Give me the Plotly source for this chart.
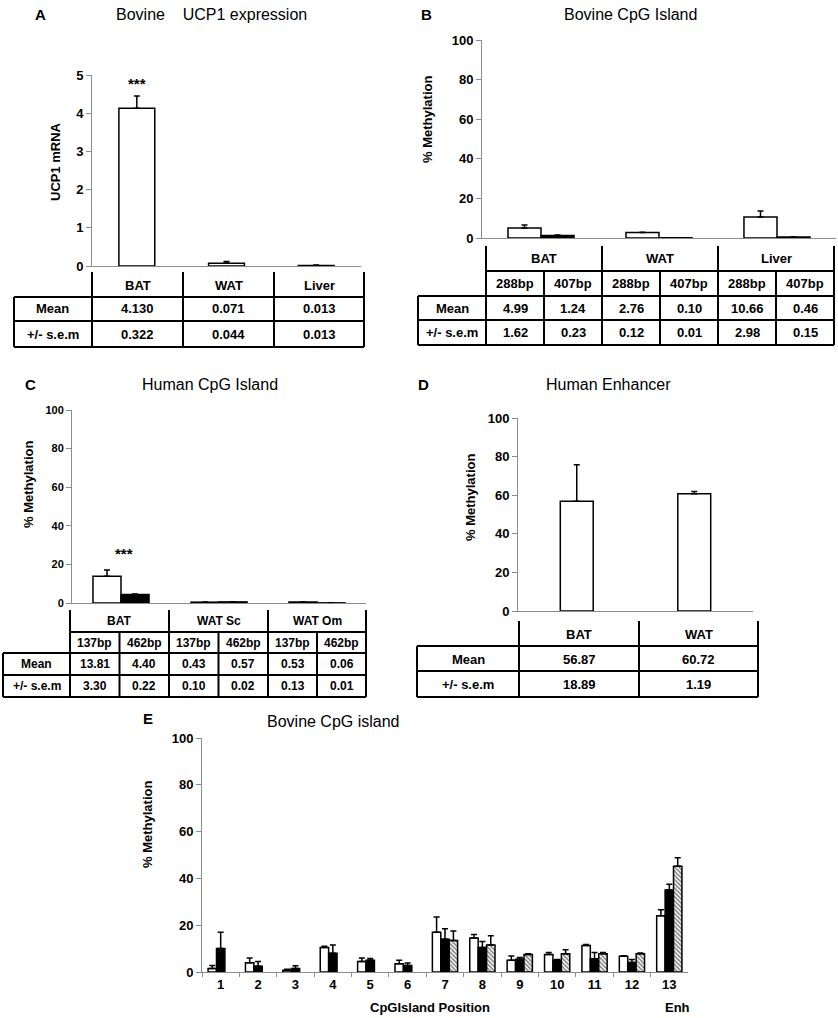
import plotly.graph_objects as go

W, H = 838, 1018
FONT = "Liberation Sans, Arial, sans-serif"

# A - bovine UCP1 expression
a_tissues = ["BAT", "WAT", "Liver"]
a_mean = [4.130, 0.071, 0.013]
a_sem = [0.322, 0.044, 0.013]

# B - bovine CpG island
b_tissues = ["BAT", "WAT", "Liver"]
b_frags = ["288bp", "407bp"]
b_288_mean = [4.99, 2.76, 10.66]
b_288_sem = [1.62, 0.12, 2.98]
b_407_mean = [1.24, 0.10, 0.46]
b_407_sem = [0.23, 0.01, 0.15]

# C - human CpG island
c_tissues = ["BAT", "WAT Sc", "WAT Om"]
c_frags = ["137bp", "462bp"]
c_137_mean = [13.81, 0.43, 0.53]
c_137_sem = [3.30, 0.10, 0.13]
c_462_mean = [4.40, 0.57, 0.06]
c_462_sem = [0.22, 0.02, 0.01]

# D - human enhancer
d_tissues = ["BAT", "WAT"]
d_mean = [56.87, 60.72]
d_sem = [18.89, 1.19]

# E - bovine CpG island by position
e_pos = [str(i) for i in range(1, 14)]
e_white = [1.5, 4.0, 0.7, 10.5, 4.5, 3.5, 17.0, 14.5, 5.0, 7.5, 11.3, 6.7, 24.0]
e_white_err = [1.3, 2.0, 0.5, 0.5, 1.5, 1.5, 6.5, 1.5, 1.8, 0.8, 0.5, 0.2, 2.6]
e_black = [10.0, 2.5, 1.5, 8.0, 5.0, 2.8, 14.0, 10.5, 5.5, 5.0, 5.7, 4.1, 35.0]
e_black_err = [7.0, 2.0, 1.2, 3.5, 0.8, 1.0, 4.5, 2.5, 0.7, 0.3, 2.6, 1.2, 2.5]
e_hatch = [None] * 6 + [13.5, 11.5, 7.5, 7.8, 7.8, 7.8, 45.2]
e_hatch_err = [0] * 6 + [4.0, 4.0, 0.3, 1.7, 0.5, 0.3, 3.6]

row_labels = ["Mean", "+/- s.e.m"]


def px(x):
    return x / W


def py(y):
    return 1 - y / H


def err(vals):
    return dict(type="data", symmetric=False, array=vals, arrayminus=[0] * len(vals),
                color="black", thickness=1.5, width=3)


def bar(x, y, e, axis, fill="white", width=0.4, offset=None, hatch=False):
    marker = dict(color=fill, line=dict(color="black", width=1.5))
    if hatch:
        marker["pattern"] = dict(shape="\\", fgcolor="black", bgcolor="white", size=3, solidity=0.5)
    return go.Bar(x=x, y=y, error_y=err(e), marker=marker, width=width, offset=offset,
                  xaxis="x" + axis, yaxis="y" + axis, showlegend=False)


fig = go.Figure()
fig.add_trace(bar(a_tissues, a_mean, a_sem, "", width=0.4, offset=-0.2))
fig.add_trace(bar(b_tissues, b_288_mean, b_288_sem, "2", width=0.28, offset=-0.28))
fig.add_trace(bar(b_tissues, b_407_mean, b_407_sem, "2", fill="black", width=0.28, offset=0))
fig.add_trace(bar(c_tissues, c_137_mean, c_137_sem, "3", width=0.286, offset=-0.286))
fig.add_trace(bar(c_tissues, c_462_mean, c_462_sem, "3", fill="black", width=0.286, offset=0))
fig.add_trace(bar(d_tissues, d_mean, d_sem, "4", width=0.28, offset=-0.14))
fig.add_trace(bar(e_pos, e_white, e_white_err, "5", width=0.225, offset=-0.3375))
fig.add_trace(bar(e_pos, e_black, e_black_err, "5", fill="black", width=0.225, offset=-0.1125))
fig.add_trace(bar(e_pos, e_hatch, e_hatch_err, "5", width=0.225, offset=0.1125, hatch=True))

tickfont = dict(family=FONT, size=13, color="black", weight="bold")
small_tick = dict(family=FONT, size=11, color="black", weight="bold")


def yax(y0, y1, rng, dtick, anchor, font=tickfont):
    return dict(domain=[py(y1), py(y0)], range=rng, dtick=dtick, anchor=anchor,
                showline=True, linecolor="#8c8c8c", linewidth=1, ticks="outside",
                ticklen=5, tickcolor="#8c8c8c", showgrid=False, zeroline=False,
                tickfont=font, fixedrange=True, automargin=False)


def xax(x0, x1, n, anchor, **kw):
    d = dict(domain=[px(x0), px(x1)], range=[-0.5, n - 0.5], anchor=anchor,
             showline=True, linecolor="#8c8c8c", linewidth=1, showgrid=False,
             showticklabels=False, ticks="", zeroline=False, automargin=False,
             fixedrange=True)
    d.update(kw)
    return d


fig.update_layout(
    width=W, height=H, margin=dict(l=0, r=0, t=0, b=0, pad=0),
    paper_bgcolor="white", plot_bgcolor="white", barmode="overlay",
    font=dict(family=FONT, color="black"),
    xaxis=xax(92, 361, 3, "y"),
    yaxis=yax(75, 266, [0, 5], 1, "x"),
    xaxis2=xax(482, 836, 3, "y2"),
    yaxis2=yax(40, 238, [0, 100], 20, "x2"),
    xaxis3=xax(72, 366, 3, "y3"),
    yaxis3=yax(410, 603, [0, 100], 20, "x3", small_tick),
    xaxis4=xax(518, 753, 2, "y4"),
    yaxis4=yax(418, 611, [0, 100], 20, "x4"),
    xaxis5=xax(202, 688, 13, "y5", showticklabels=True, ticks="outside",
               tickson="boundaries", ticklen=4, tickcolor="#8c8c8c", tickfont=tickfont),
    yaxis5=yax(738, 972, [0, 100], 20, "x5"),
)

shapes = []
annots = []


def hline(y, x0, x1):
    shapes.append(dict(type="line", xref="paper", yref="paper", x0=px(x0), x1=px(x1),
                       y0=py(y), y1=py(y), line=dict(color="black", width=2)))


def vline(x, y0, y1):
    shapes.append(dict(type="line", xref="paper", yref="paper", x0=px(x), x1=px(x),
                       y0=py(y0), y1=py(y1), line=dict(color="black", width=2)))


def text(t, x, y, size=13, bold=True, angle=0):
    annots.append(dict(text=t, x=px(x), y=py(y), xref="paper", yref="paper",
                       xanchor="center", yanchor="middle",
                       showarrow=False, textangle=angle,
                       font=dict(family=FONT, size=size, color="black",
                                 weight="bold" if bold else "normal")))


# panel letters and titles
for letter, x, y in [("A", 40, 14), ("B", 426, 14), ("C", 30, 384), ("D", 424, 384), ("E", 148, 718)]:
    text(letter, x, y, 15)
text("Bovine\u00a0\u00a0\u00a0 UCP1 expression", 212, 14, 16, bold=False)
text("Bovine CpG Island", 630, 14, 16, bold=False)
text("Human CpG Island", 210, 384, 16, bold=False)
text("Human Enhancer", 608, 384, 16, bold=False)
text("Bovine CpG island", 333, 721, 16, bold=False)

# axis titles
text("UCP1 mRNA", 55, 162, 13, angle=-90)
text("% Methylation", 427, 120, 13, angle=-90)
text("% Methylation", 28, 485, 13, angle=-90)
text("% Methylation", 470, 498, 13, angle=-90)
text("% Methylation", 147, 825, 13, angle=-90)
text("CpGIsland Position", 430, 1007, 13)
text("Enh", 677, 1007, 13)

# significance stars
annots.append(dict(text="***", x="BAT", y=a_mean[0] + a_sem[0], xref="x", yref="y",
                   yanchor="bottom", yshift=2, showarrow=False,
                   font=dict(family=FONT, size=15, weight="bold")))
annots.append(dict(text="***", x="BAT", y=c_137_mean[0] + c_137_sem[0], xref="x3", yref="y3",
                   yanchor="bottom", yshift=6, xshift=3, showarrow=False,
                   font=dict(family=FONT, size=15, weight="bold")))

# table A
cols = [14, 92, 183, 274, 364]
for x in cols[1:]:
    vline(x, 272, 347)
vline(cols[0], 297, 347)
for y in [297, 321, 347]:
    hline(y, cols[0], cols[-1])
for i, t in enumerate(a_tissues):
    c = (cols[i + 1] + cols[i + 2]) / 2
    text(t, c, 285)
    text(f"{a_mean[i]:.3f}", c, 309)
    text(f"{a_sem[i]:.3f}", c, 334)
text(row_labels[0], 53, 309)
text(row_labels[1], 53, 334)


def group_table(left, cols, rows, groups, frags, means, sems, size, lab_size):
    # cols: group boundaries; subcolumns split each group in half
    top, mid, sub, r1, r2 = rows
    for x in cols:
        vline(x, top, r2)
    subs = []
    for i in range(len(cols) - 1):
        m = (cols[i] + cols[i + 1]) / 2
        vline(m, mid, r2)
        subs += [(cols[i] + m) / 2, (m + cols[i + 1]) / 2]
        text(groups[i], (cols[i] + cols[i + 1]) / 2, (top + mid) / 2, size)
    vline(left, sub, r2)
    hline(mid, cols[0], cols[-1])
    for y in [sub, r1, r2]:
        hline(y, left, cols[-1])
    k = 0
    for i in range(len(groups)):
        for j in range(len(frags)):
            text(frags[j], subs[k], (mid + sub) / 2, size)
            text(f"{means[j][i]:.2f}", subs[k], (sub + r1) / 2, size)
            text(f"{sems[j][i]:.2f}", subs[k], (r1 + r2) / 2, size)
            k += 1
    text(row_labels[0], (left + cols[0]) / 2, (sub + r1) / 2, lab_size)
    text(row_labels[1], (left + cols[0]) / 2, (r1 + r2) / 2, lab_size)


group_table(418, [486, 602, 718, 834], [246, 271, 296, 320, 345], b_tissues, b_frags,
            [b_288_mean, b_407_mean], [b_288_sem, b_407_sem], 13, 13)
group_table(3, [70, 169, 268, 366], [610, 632, 653, 675, 697], c_tissues, c_frags,
            [c_137_mean, c_462_mean], [c_137_sem, c_462_sem], 12, 12)

# table D
dcols = [417, 519, 639, 758]
for x in dcols[1:]:
    vline(x, 621, 697)
vline(dcols[0], 646, 697)
for y in [646, 671, 697]:
    hline(y, dcols[0], dcols[-1])
for i, t in enumerate(d_tissues):
    c = (dcols[i + 1] + dcols[i + 2]) / 2
    text(t, c, 634)
    text(f"{d_mean[i]:.2f}", c, 659)
    text(f"{d_sem[i]:.2f}", c, 684)
text(row_labels[0], 468, 659)
text(row_labels[1], 468, 684)

fig.update_layout(shapes=shapes, annotations=annots)
fig.write_html("out.html", config={"displayModeBar": False},
               post_script="document.body.style.margin='0';")
